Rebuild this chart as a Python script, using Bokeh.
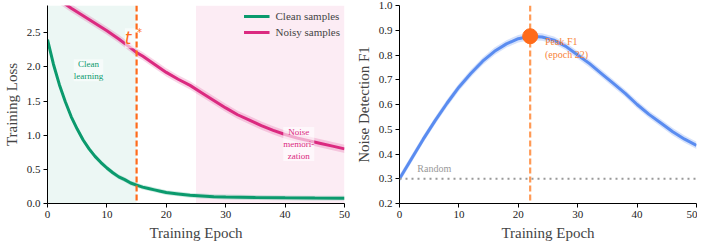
from bokeh.plotting import figure
from bokeh.layouts import row
from bokeh.models import (ColumnDataSource, Span, BoxAnnotation, Legend, LegendItem,
                          FixedTicker, NumeralTickFormatter)
from bokeh.core.properties import value
from bokeh.embed import file_html
from bokeh.resources import INLINE

# ---- data ----
epochs_clean = [0, 1, 2, 3, 4, 5, 6, 7, 8, 9, 10, 11, 12, 13, 14, 15, 16, 17, 18, 19, 20,
                22, 24, 26, 28, 30, 35, 40, 45, 50]
clean_loss = [2.40, 2.04, 1.74, 1.49, 1.27, 1.09, 0.93, 0.80, 0.69, 0.60, 0.52, 0.45, 0.39,
              0.35, 0.30, 0.27, 0.24, 0.22, 0.20, 0.18, 0.16, 0.14, 0.12, 0.11, 0.10, 0.095,
              0.088, 0.083, 0.080, 0.078]
epochs_noisy = [0, 2, 4, 6, 8, 10, 12, 14, 15, 16, 18, 20, 22, 24, 26, 28, 30, 32, 34, 36,
                38, 40, 42, 44, 46, 48, 50]
noisy_loss = [3.10, 2.98, 2.86, 2.75, 2.64, 2.53, 2.41, 2.28, 2.21, 2.16, 2.04, 1.92, 1.82,
              1.73, 1.62, 1.51, 1.40, 1.30, 1.22, 1.14, 1.07, 1.01, 0.96, 0.92, 0.88, 0.84, 0.80]
epochs_f1 = [0, 2, 4, 6, 8, 10, 12, 14, 16, 18, 20, 22, 24, 26, 28, 30, 32, 34, 36, 38, 40,
             42, 44, 46, 48, 50]
f1 = [0.30, 0.38, 0.46, 0.535, 0.605, 0.67, 0.725, 0.775, 0.815, 0.845, 0.866, 0.876, 0.873,
      0.86, 0.835, 0.80, 0.765, 0.725, 0.685, 0.645, 0.60, 0.56, 0.525, 0.49, 0.46, 0.435]
t_star = 15
peak_epoch = 22
peak_f1 = 0.876
random_f1 = 0.30
clean_band = 0.035
noisy_band = 0.06
f1_band = 0.015

FONT = "'Liberation Serif', serif"
GREEN = "#0b9a6d"
PINK = "#db2a80"
ORANGE = "#ff6b1a"
ORANGE_L = "#ff9a55"
ORANGE_T = "#f7833a"
BLUE = "#5a8cf0"


def style(p, xlabel, ylabel):
    p.outline_line_color = None
    p.grid.visible = False
    p.axis.axis_label_text_font = FONT
    p.axis.axis_label_text_font_style = "normal"
    p.axis.axis_label_text_font_size = "15px"
    p.axis.major_label_text_font = FONT
    p.axis.major_label_text_font_size = "11px"
    p.axis.major_label_text_color = "#222222"
    p.axis.minor_tick_line_color = None
    p.axis.major_tick_in = 0
    p.axis.major_tick_out = 4
    p.axis.axis_line_color = "black"
    p.axis.major_tick_line_color = "black"
    p.axis.major_label_standoff = 3
    p.axis.axis_label_standoff = 4
    p.xaxis.axis_label = xlabel
    p.yaxis.axis_label = ylabel
    p.xaxis.ticker = FixedTicker(ticks=[0, 10, 20, 30, 40, 50])
    p.yaxis.formatter = NumeralTickFormatter(format="0.0")


def txt(p, x, y, s, color, size, align="left", baseline="middle", font=FONT, style="normal",
        bg=None, bg_alpha=0.6, xo=0, yo=0):
    kw = {}
    if bg is not None:
        kw = dict(background_fill_color=bg, background_fill_alpha=bg_alpha)
    p.text(x=[x], y=[y], text=[s], text_font=value(font), text_font_size=value(size),
           text_font_style=style, text_color=color, text_align=align,
           text_baseline=baseline, x_offset=xo, y_offset=yo, **kw)


# ---- left panel ----
p1 = figure(width=352, height=243, x_range=(0, 50), y_range=(0, 2.9),
            output_backend="svg", toolbar_location=None,
            min_border_top=5, min_border_right=8, min_border_left=0, min_border_bottom=0)
style(p1, "Training Epoch", "Training Loss")
p1.yaxis.ticker = FixedTicker(ticks=[0.0, 0.5, 1.0, 1.5, 2.0, 2.5])

p1.add_layout(BoxAnnotation(left=0, right=t_star, fill_color=GREEN, fill_alpha=0.08,
                            line_color=None, level="underlay"))
p1.add_layout(BoxAnnotation(left=25, right=50, fill_color=PINK, fill_alpha=0.09,
                            line_color=None, level="underlay"))

sc = ColumnDataSource(dict(x=epochs_clean, y=clean_loss,
                           lo=[v - clean_band for v in clean_loss],
                           hi=[v + clean_band for v in clean_loss]))
sn = ColumnDataSource(dict(x=epochs_noisy, y=noisy_loss,
                           lo=[v - noisy_band for v in noisy_loss],
                           hi=[v + noisy_band for v in noisy_loss]))
p1.varea(x="x", y1="lo", y2="hi", source=sc, fill_color=GREEN, fill_alpha=0.2)
p1.varea(x="x", y1="lo", y2="hi", source=sn, fill_color=PINK, fill_alpha=0.2)
r_clean = p1.line("x", "y", source=sc, line_color=GREEN, line_width=3)
r_noisy = p1.line("x", "y", source=sn, line_color=PINK, line_width=3)

p1.add_layout(Span(location=t_star, dimension="height", line_color=ORANGE,
                   line_width=2.2, line_dash="6 3"))

txt(p1, t_star, 2.42, "t  ", ORANGE, "17px", align="center", font="DejaVu Sans",
    style="italic", bg="white", bg_alpha=0.6, xo=-3)
txt(p1, t_star, 2.42, "*", ORANGE, "10px", align="center", font="DejaVu Sans", xo=3, yo=-6)
txt(p1, 6.9, 1.95, "Clean\nlearning", GREEN, "9px", align="center", bg="white", bg_alpha=0.5)
txt(p1, 42.3, 0.87, "Noise\nmemori-\nzation", PINK, "9px", align="center", bg="white",
    bg_alpha=0.6)

legend = Legend(items=[LegendItem(label="Clean samples", renderers=[r_clean]),
                       LegendItem(label="Noisy samples", renderers=[r_noisy])],
                location="top_right", border_line_color=None, background_fill_alpha=0,
                label_text_font=FONT, label_text_font_size="11px", glyph_width=26,
                glyph_height=12, label_height=13, spacing=3, padding=6, margin=4,
                label_standoff=6)
p1.add_layout(legend)

# ---- right panel ----
p2 = figure(width=345, height=243, x_range=(0, 50), y_range=(0.2, 1.0),
            output_backend="svg", toolbar_location=None,
            min_border_top=5, min_border_right=1, min_border_left=0, min_border_bottom=0)
style(p2, "Training Epoch", "Noise Detection F1")
p2.yaxis.ticker = FixedTicker(ticks=[0.2, 0.3, 0.4, 0.5, 0.6, 0.7, 0.8, 0.9, 1.0])

sf = ColumnDataSource(dict(x=epochs_f1, y=f1,
                           lo=[v - f1_band for v in f1], hi=[v + f1_band for v in f1]))
p2.add_layout(Span(location=peak_epoch, dimension="height", line_color=ORANGE_L,
                   line_width=2.2, line_dash="6 3", level="underlay"))
p2.varea(x="x", y1="lo", y2="hi", source=sf, fill_color=BLUE, fill_alpha=0.25)
p2.line("x", "y", source=sf, line_color=BLUE, line_width=3)

p2.add_layout(Span(location=random_f1, dimension="width", line_color="#999999",
                   line_width=2, line_dash="2 4"))
txt(p2, 3, random_f1 + 0.02, "Random", "#999999", "10px", baseline="bottom")
p2.scatter([peak_epoch], [peak_f1], size=15, fill_color=ORANGE, line_color=ORANGE)
txt(p2, peak_epoch + 2.5, peak_f1 + 0.002, "Peak F1\n(epoch 22)", ORANGE_T, "10px",
    baseline="top")

layout = row(p1, p2)
open("out.html", "w").write(file_html(layout, INLINE))
